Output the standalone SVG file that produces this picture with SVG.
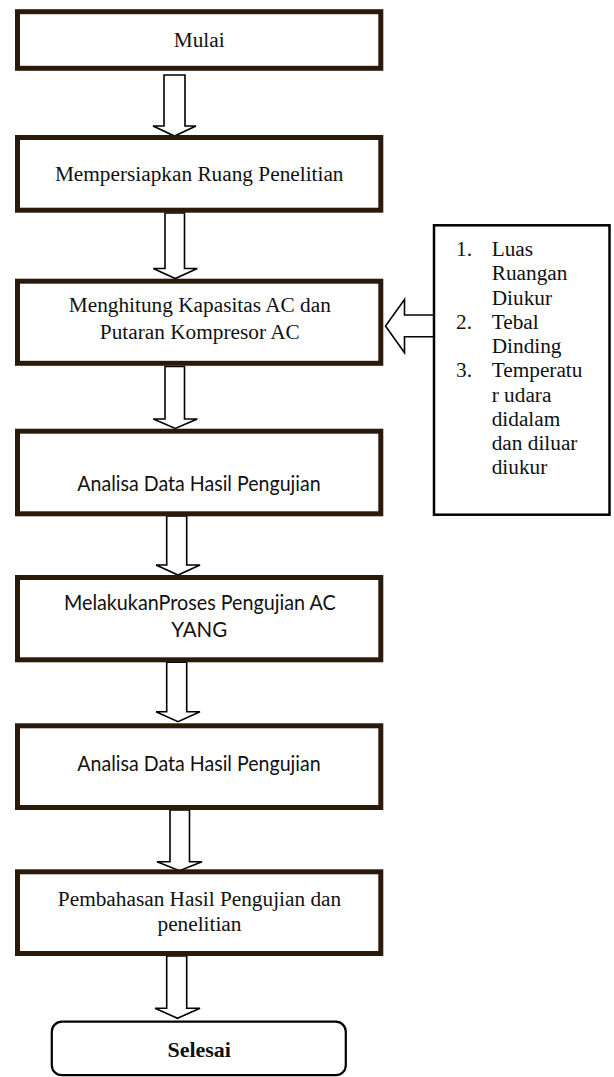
<svg xmlns="http://www.w3.org/2000/svg" width="614" height="1077" viewBox="0 0 614 1077">
<style>
.box{fill:#fff;stroke:#2a1a0c;stroke-width:5}
.side{fill:#fff;stroke:#000;stroke-width:2.5}
.end{fill:#fff;stroke:#000;stroke-width:2.2}
.arr{fill:#fff;stroke:#000;stroke-width:1.6;stroke-linejoin:miter}
text.serif{font-family:"Liberation Serif","Times New Roman",serif;font-size:21.3px;fill:#111}
text.sans{font-family:Lato,"Liberation Sans",sans-serif;font-size:20.5px;fill:#111}
.c{text-anchor:middle}
text.bold{font-weight:bold;font-size:22px}
</style>
<rect width="614" height="1077" fill="#fff"/>
<g id="connectors">
<polygon class="arr" points="164,75 185,75 185,126 196,126 174.5,136 153,126 164,126"/>
<polygon class="arr" points="165,213 184.5,213 184.5,268.5 197.3,268.5 175.3,278.5 153.3,268.5 165,268.5"/>
<polygon class="arr" points="165,366.5 184.5,366.5 184.5,419 197.3,419 175.3,428.5 153.3,419 165,419"/>
<polygon class="arr" points="166.7,516 186.7,516 186.7,565 200,565 178,575 156,565 166.7,565"/>
<polygon class="arr" points="166.7,662.3 186.7,662.3 186.7,711.7 200,711.7 178,721.7 156,711.7 166.7,711.7"/>
<polygon class="arr" points="170,810 189.5,810 189.5,861.7 202,861.7 179.5,870.7 157,861.7 170,861.7"/>
<polygon class="arr" points="166.7,956 186.7,956 186.7,1008.3 200,1008.3 177.5,1018.3 155,1008.3 166.7,1008.3"/>
<polygon class="arr" points="434,315 404.5,315 404.5,299.5 385.5,326 404.5,352.7 404.5,336.7 434,336.7"/>
</g>
<g id="mulai">
<rect class="box" x="17.5" y="11.7" width="363.3" height="56.6"/>
<text class="serif c" font-family="Liberation Serif, serif" x="199.2" y="46.5">Mulai</text>
</g>
<g id="persiapan">
<rect class="box" x="17.5" y="137.5" width="363.3" height="72.7"/>
<text class="serif c" font-family="Liberation Serif, serif" x="199.2" y="180.5">Mempersiapkan Ruang Penelitian</text>
</g>
<g id="menghitung">
<rect class="box" x="17.5" y="281.2" width="363.3" height="82.1"/>
<text class="serif c" font-family="Liberation Serif, serif" x="199.8" y="312.3">Menghitung Kapasitas AC dan</text>
<text class="serif c" font-family="Liberation Serif, serif" x="199.8" y="339">Putaran Kompresor AC</text>
</g>
<g id="input">
<rect class="side" x="434" y="225.3" width="175.5" height="289.4"/>
<text class="serif" x="456" y="256">1.</text>
<text class="serif" x="491.7" y="256">Luas</text>
<text class="serif" x="491.7" y="280.25">Ruangan</text>
<text class="serif" x="491.7" y="304.5">Diukur</text>
<text class="serif" x="456" y="328.75">2.</text>
<text class="serif" x="491.7" y="328.75">Tebal</text>
<text class="serif" x="491.7" y="353">Dinding</text>
<text class="serif" x="456" y="377.25">3.</text>
<text class="serif" x="491.7" y="377.25">Temperatu</text>
<text class="serif" x="491.7" y="401.5">r udara</text>
<text class="serif" x="491.7" y="425.75">didalam</text>
<text class="serif" x="491.7" y="450">dan diluar</text>
<text class="serif" x="491.7" y="474.25">diukur</text>
</g>
<g id="analisa1">
<rect class="box" x="17.5" y="431.2" width="363.3" height="82.6"/>
<text class="sans c" x="199" y="490.7" textLength="243.4" lengthAdjust="spacingAndGlyphs">Analisa Data Hasil Pengujian</text>
</g>
<g id="proses">
<rect class="box" x="17.5" y="577.5" width="363.3" height="82.3"/>
<text class="sans c" x="199.8" y="610" textLength="271.7" lengthAdjust="spacingAndGlyphs">MelakukanProses Pengujian AC</text>
<text class="sans c" x="199.3" y="637.3">YANG</text>
</g>
<g id="analisa2">
<rect class="box" x="17.5" y="725.8" width="363.3" height="81.7"/>
<text class="sans c" x="199" y="770.7" textLength="243.4" lengthAdjust="spacingAndGlyphs">Analisa Data Hasil Pengujian</text>
</g>
<g id="pembahasan">
<rect class="box" x="17.5" y="871.8" width="363.3" height="81.7"/>
<text class="serif c" x="199.5" y="906">Pembahasan Hasil Pengujian dan</text>
<text class="serif c" x="199.5" y="930.7">penelitian</text>
</g>
<g id="selesai">
<rect class="end" x="51.8" y="1021.7" width="294" height="53.5" rx="10" ry="10"/>
<text class="serif c bold" x="199.2" y="1057.3">Selesai</text>
</g>
</svg>
